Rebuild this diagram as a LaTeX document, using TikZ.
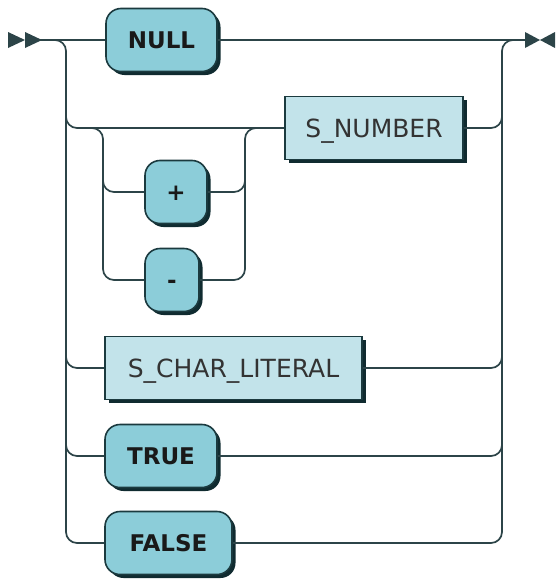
\documentclass[tikz,border=0pt]{standalone}
\usepackage{fontspec}
\setmainfont{DejaVu Sans}
\usetikzlibrary{shadows}

\definecolor{kwfill}{HTML}{8CCDD9}
\definecolor{tokfill}{HTML}{C2E3EA}
\definecolor{boxline}{HTML}{1B3A3F}
\definecolor{railcol}{HTML}{2C4448}
\definecolor{shadowcol}{HTML}{102B30}

\tikzset{
    keyword/.style={draw=boxline, fill=kwfill, line width=1.6pt, rounded corners=15pt,
        minimum height=63pt, inner sep=0pt, text=black!90,
        font=\fontsize{23}{27}\selectfont\bfseries, text height=17pt, text depth=0pt,
        drop shadow={shadow xshift=3.5pt, shadow yshift=-3.5pt, fill=shadowcol, opacity=1}},
    token/.style={draw=boxline, fill=tokfill, line width=1.6pt,
        minimum height=63pt, inner sep=0pt, text=black!80,
        font=\fontsize{25}{29}\selectfont, text height=18pt, text depth=0pt,
        drop shadow={shadow xshift=3.5pt, shadow yshift=-3.5pt, fill=shadowcol, opacity=1}},
    rail/.style={draw=railcol, line width=1.7pt, rounded corners=11pt}
}

\begin{document}
\begin{tikzpicture}[x=1pt, y=-1pt]
    \useasboundingbox (0,0) rectangle (555,581);

    % 1. rail points
    \coordinate (start) at (40,40);
    \coordinate (finish) at (525,40);
    \coordinate (lsplit) at (50,40);

    % 2. terminal boxes
    \node[keyword, minimum width=111pt] (nnull) at (161.5,40) {NULL};
    \node[token, minimum width=178pt] (snumber) at (374,128) {S\_NUMBER};
    \node[keyword, minimum width=62pt] (nplus) at (176,192) {+};
    \node[keyword, minimum width=54pt] (nminus) at (172,280) {-};
    \node[token, minimum width=257pt] (scharlit) at (233.5,368) {S\_CHAR\_LITERAL};
    \node[keyword, minimum width=112pt] (ntrue) at (161,456) {TRUE};
    \node[keyword, minimum width=127pt] (nfalse) at (168.5,543) {FALSE};

    % 3. main line
    \draw[rail] (start) -- (nnull.west);
    \draw[rail] (nnull.east) -- (finish);

    % 4. left split
    \draw[rail] (lsplit) -| (66,543) -- (nfalse.west);
    \draw[rail] (66,110) |- (snumber.west);
    \draw[rail] (66,350) |- (scharlit.west);
    \draw[rail] (66,438) |- (ntrue.west);

    % 5. optional sign before S_NUMBER
    \draw[rail] (90,128) -| (103,280) -- (nminus.west);
    \draw[rail] (103,174) |- (nplus.west);
    \draw[rail] (nminus.east) -| (245,128) -- (258,128);
    \draw[rail] (nplus.east) -| (245,174);

    % 6. right merge
    \draw[rail] (nfalse.east) -| (502,40) -- (515,40);
    \draw[rail] (snumber.east) -| (502,110);
    \draw[rail] (scharlit.east) -| (502,350);
    \draw[rail] (ntrue.east) -| (502,438);

    % 7. start and end marks
    \fill[railcol] (8,32) -- (25,40) -- (8,48) -- cycle;
    \fill[railcol] (25,32) -- (42,40) -- (25,48) -- cycle;
    \fill[railcol] (525,32) -- (540,40) -- (525,48) -- cycle;
    \fill[railcol] (555,32) -- (540,40) -- (555,48) -- cycle;
\end{tikzpicture}
\end{document}
